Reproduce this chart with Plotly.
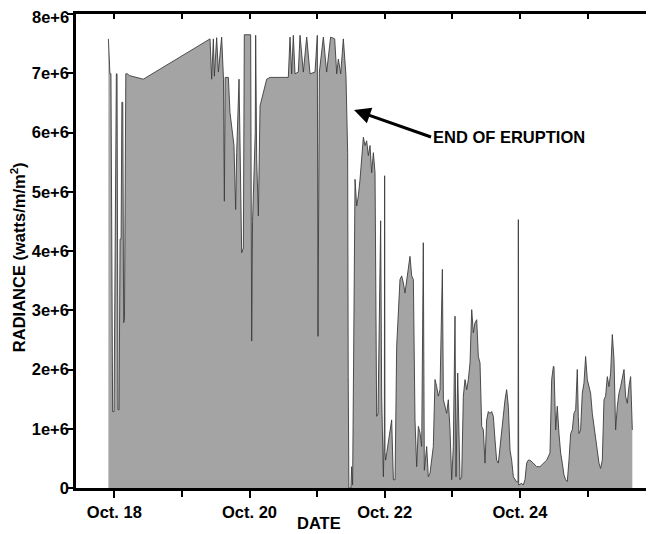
import plotly.graph_objects as go

# Day of October (fractional) and radiance in millions of watts/m/m^2
day = [
    17.912, 17.925, 17.935, 17.950, 17.962, 17.975, 17.996, 18.010, 18.030, 18.040,
    18.055, 18.070, 18.085, 18.100, 18.112, 18.125, 18.138, 18.150, 18.170, 18.195,
    18.222, 18.429, 19.416, 19.440, 19.465, 19.480, 19.514, 19.539, 19.588, 19.615,
    19.628, 19.640, 19.687, 19.711, 19.770, 19.795, 19.810, 19.845, 19.859, 19.884,
    19.909, 19.918, 19.923, 20.017, 20.032, 20.045, 20.057, 20.085, 20.091, 20.098,
    20.106, 20.131, 20.156, 20.254, 20.303, 20.574, 20.599, 20.624, 20.648, 20.673,
    20.722, 20.747, 20.796, 20.846, 20.895, 20.969, 21.003, 21.013, 21.033, 21.092,
    21.141, 21.200, 21.260, 21.290, 21.314, 21.349, 21.388, 21.427, 21.452, 21.460,
    21.470, 21.500, 21.511, 21.525, 21.545, 21.561, 21.585, 21.610, 21.635, 21.660,
    21.684, 21.709, 21.733, 21.758, 21.783, 21.807, 21.832, 21.857, 21.871, 21.881,
    21.901, 21.930, 21.940, 21.955, 21.970, 21.980, 21.995, 21.999, 22.004, 22.014,
    22.054, 22.079, 22.103, 22.128, 22.153, 22.177, 22.202, 22.226, 22.251, 22.276,
    22.300, 22.325, 22.350, 22.374, 22.399, 22.424, 22.448, 22.473, 22.498, 22.522,
    22.547, 22.571, 22.586, 22.621, 22.645, 22.670, 22.719, 22.744, 22.769, 22.793,
    22.818, 22.853, 22.868, 22.892, 22.917, 22.941, 22.966, 22.991, 23.015, 23.040,
    23.055, 23.080, 23.114, 23.139, 23.163, 23.188, 23.213, 23.237, 23.262, 23.287,
    23.311, 23.336, 23.361, 23.385, 23.410, 23.435, 23.459, 23.484, 23.508, 23.533,
    23.558, 23.582, 23.607, 23.632, 23.656, 23.681, 23.706, 23.730, 23.755, 23.780,
    23.804, 23.829, 23.854, 23.878, 23.903, 23.928, 23.947, 23.972, 23.977, 23.982,
    24.026, 24.050, 24.075, 24.100, 24.124, 24.149, 24.198, 24.248, 24.297, 24.347,
    24.396, 24.445, 24.470, 24.495, 24.504, 24.529, 24.553, 24.578, 24.603, 24.627,
    24.652, 24.677, 24.701, 24.726, 24.751, 24.775, 24.800, 24.825, 24.849, 24.864,
    24.874, 24.898, 24.923, 24.948, 24.972, 24.997, 25.022, 25.046, 25.071, 25.096,
    25.120, 25.145, 25.170, 25.194, 25.219, 25.244, 25.268, 25.293, 25.318, 25.342,
    25.367, 25.392, 25.416, 25.441, 25.466, 25.490, 25.515, 25.540, 25.564, 25.589,
    25.613, 25.638, 25.663,
]
radiance_millions = [
    7.58, 7.10, 6.99, 6.99, 3.00, 1.29, 1.29, 4.00, 6.99, 6.99,
    1.32, 1.32, 4.20, 4.20, 6.51, 6.51, 2.79, 2.85, 6.99, 6.99,
    6.96, 6.90, 7.58, 6.90, 7.58, 6.95, 7.60, 7.02, 7.61, 6.90,
    4.84, 6.93, 6.93, 6.34, 5.78, 4.70, 5.66, 6.90, 5.83, 3.97,
    4.05, 5.80, 7.65, 7.65, 2.48, 4.50, 5.10, 6.00, 7.64, 6.00,
    5.55, 4.59, 6.45, 6.90, 6.93, 6.93, 7.61, 6.99, 7.64, 6.99,
    7.02, 7.64, 7.02, 7.61, 6.99, 7.02, 7.64, 2.56, 7.02, 7.61,
    7.02, 7.61, 7.58, 6.99, 7.24, 6.99, 7.58, 6.96, 5.66, 1.88,
    0.00, 0.00, 0.36, 0.05, 3.52, 5.21, 4.76, 4.93, 5.21, 5.55,
    5.92, 5.78, 5.86, 5.61, 5.78, 5.32, 5.66, 5.32, 2.96, 1.21,
    1.26, 3.97, 4.51, 1.55, 0.47, 0.19, 1.00, 5.27, 0.60, 0.47,
    0.76, 0.98, 1.15, 0.14, 0.14, 2.39, 3.07, 3.52, 3.58, 3.46,
    3.29, 3.52, 3.75, 3.91, 3.58, 3.52, 1.15, 0.36, 1.04, 0.93,
    0.70, 4.14, 0.30, 0.70, 0.19, 0.25, 0.70, 1.83, 1.71, 1.55,
    1.66, 3.69, 1.49, 1.38, 1.26, 1.49, 0.98, 0.14, 0.70, 2.90,
    0.19, 1.94, 0.14, 0.19, 1.55, 1.83, 1.66, 1.83, 2.11, 3.01,
    2.62, 2.79, 2.84, 2.22, 2.11, 1.04, 0.98, 0.42, 1.15, 1.29,
    1.26, 1.29, 1.21, 0.81, 0.47, 0.42, 0.70, 0.98, 1.26, 1.49,
    1.66, 1.38, 0.64, 0.47, 0.19, 0.14, 0.11, 0.10, 4.53, 0.05,
    0.08, 0.05, 0.14, 0.42, 0.47, 0.47, 0.42, 0.36, 0.36, 0.42,
    0.47, 0.59, 1.83, 2.05, 2.05, 0.98, 1.38, 0.92, 0.59, 0.42,
    0.22, 0.14, 0.11, 0.47, 0.92, 0.98, 1.26, 1.32, 2.00, 1.21,
    0.92, 0.98, 1.60, 1.77, 2.22, 1.83, 1.71, 1.60, 1.26, 1.04,
    0.92, 0.70, 0.42, 0.33, 0.47, 1.49, 1.55, 1.88, 1.71, 1.94,
    2.59, 2.17, 0.98, 1.38, 1.60, 1.71, 1.88, 2.00, 1.55, 1.43,
    1.71, 1.88, 0.98,
]
radiance = [v * 1e6 for v in radiance_millions]

x_label_days = [18, 20, 22, 24]
x_labels = ["Oct. 18", "Oct. 20", "Oct. 22", "Oct. 24"]
x_minor_days = [19, 21, 23, 25]
x_all_days = [18, 19, 20, 21, 22, 23, 24, 25]
y_tick_values = [0, 1e6, 2e6, 3e6, 4e6, 5e6, 6e6, 7e6, 8e6]
y_tick_labels = ["0", "1e+6", "2e+6", "3e+6", "4e+6", "5e+6", "6e+6", "7e+6", "8e+6"]

x_range = [17.433, 25.969]
y_range = [0, 8e6]

end_day = 21.546
end_value = 6.38e6

FONT = "Liberation Sans, Arial, Helvetica, sans-serif"
FS = 16.5

fig = go.Figure()
fig.add_trace(go.Scatter(
    x=day, y=radiance, mode="lines", fill="tozeroy",
    fillcolor="#a4a4a4", line=dict(color="#3c3c3c", width=0.9),
    showlegend=False, hoverinfo="skip",
))
# invisible helper so the mirrored (inside-tick) axes are drawn
fig.add_trace(go.Scatter(
    x=[x_all_days[0]], y=[y_tick_values[0]], xaxis="x2", yaxis="y2",
    mode="markers", marker=dict(opacity=0), showlegend=False, hoverinfo="skip",
))

# the topmost y label is placed as an annotation so it is not clipped
axis_tick_values = y_tick_values[:-1]
axis_tick_labels = y_tick_labels[:-1]

# page body has an 8px default margin, so the figure is 8px smaller
fig.update_layout(
    width=646, height=526,
    margin=dict(l=68, r=1, t=6, b=46),
    paper_bgcolor="white", plot_bgcolor="white",
    font=dict(family=FONT, size=FS, color="black", weight="bold"),
    xaxis=dict(
        range=x_range, tickmode="array", tickvals=x_label_days, ticktext=x_labels,
        showgrid=False, zeroline=False, showline=True, linecolor="black",
        linewidth=2.5, ticks="outside", ticklen=7, tickwidth=2, tickcolor="black",
        tickfont=dict(family=FONT, size=FS, weight="bold"), automargin=False,
        ticklabeloverflow="allow",
        minor=dict(tickmode="array", tickvals=x_minor_days, ticks="outside",
                   ticklen=6, tickwidth=2, tickcolor="black", showgrid=False),
    ),
    yaxis=dict(
        range=y_range, tickmode="array", tickvals=axis_tick_values,
        ticktext=axis_tick_labels,
        showgrid=False, zeroline=False, showline=True, linecolor="black",
        linewidth=2.5, ticks="outside", ticklen=6, tickwidth=2, tickcolor="black",
        tickfont=dict(family=FONT, size=FS, weight="bold"), automargin=False,
        ticklabeloverflow="allow", ticklabelstandoff=-5,
        minor=dict(tickmode="array", tickvals=[y_tick_values[-1]], ticks="outside",
                   ticklen=6, tickwidth=2, tickcolor="black", showgrid=False),
    ),
    xaxis2=dict(
        overlaying="x", side="top", range=x_range, tickvals=x_all_days,
        showticklabels=False, showgrid=False, zeroline=False, showline=True,
        linecolor="black", linewidth=2.5, ticks="inside", ticklen=5,
        tickwidth=1.5, tickcolor="black", automargin=False,
    ),
    yaxis2=dict(
        overlaying="y", side="right", range=y_range, tickvals=y_tick_values,
        showticklabels=False, showgrid=False, zeroline=False, showline=True,
        linecolor="#777777", linewidth=1.2, ticks="inside", ticklen=5,
        tickwidth=1, tickcolor="#555555", automargin=False,
    ),
)

fig.add_annotation(
    x=-0.0087, y=y_tick_values[-1], xref="paper", yref="y",
    text=y_tick_labels[-1], showarrow=False, xanchor="right", yanchor="middle",
    yshift=-3, font=dict(family=FONT, size=FS, weight="bold"),
)
fig.add_annotation(
    x=end_day, y=end_value, xref="x", yref="y", text="END OF ERUPTION",
    showarrow=True, ax=77, ay=27, xanchor="left", yanchor="middle",
    arrowhead=2, arrowsize=1.1, arrowwidth=3, arrowcolor="black",
    font=dict(family=FONT, size=FS, weight="bold"),
)
fig.add_annotation(
    x=0.421, y=-0.097, xref="paper", yref="paper", text="DATE",
    showarrow=False, xanchor="center", yanchor="bottom",
    font=dict(family=FONT, size=FS, weight="bold"),
)
fig.add_annotation(
    x=-0.1005, y=0.487, xref="paper", yref="paper",
    text="RADIANCE (watts/m/m<sup>2</sup>)", textangle=-90,
    showarrow=False, xanchor="center", yanchor="middle",
    font=dict(family=FONT, size=FS, weight="bold"),
)

fig.write_html("out.html")
